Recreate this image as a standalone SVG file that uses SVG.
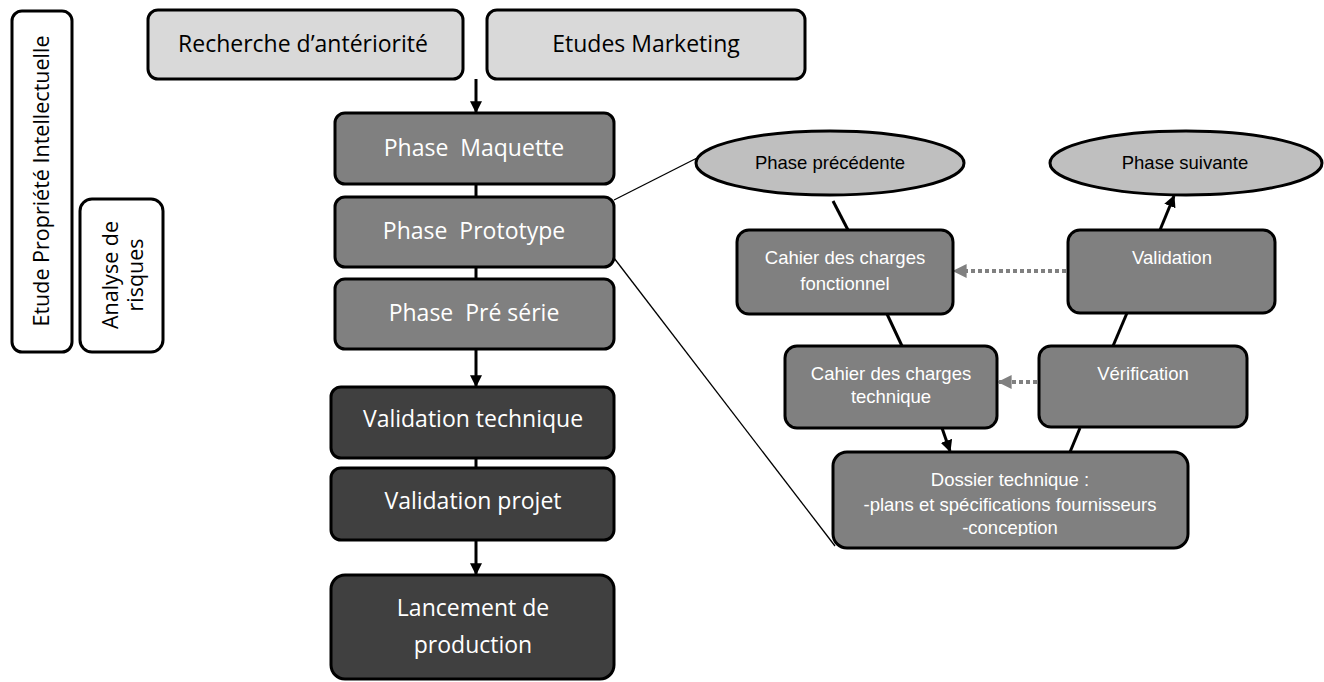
<svg xmlns="http://www.w3.org/2000/svg" width="1324" height="682" viewBox="0 0 1324 682">
<defs>
<style>
.l{font-family:"Open Sans","Liberation Sans",sans-serif;font-size:23px;text-anchor:middle;white-space:pre}
.v{font-family:"Open Sans","Liberation Sans",sans-serif;font-size:21.5px;text-anchor:middle}
.r{font-family:"Liberation Sans",Arial,sans-serif;font-size:18.5px;text-anchor:middle}
.box{stroke:#000;stroke-width:3}
.light{fill:#d9d9d9}
.mid{fill:#808080}
.dark{fill:#404040}
.white{fill:#fff}
.ell{fill:#bfbfbf;stroke:#000;stroke-width:3}
.tw{fill:#fff}
.tb{fill:#000}
.c{stroke:#000;stroke-width:3;fill:none}
.thin{stroke:#000;stroke-width:1.3;fill:none}
.dot{stroke:#808080;stroke-width:4;stroke-dasharray:4 3;fill:none}
</style>
<marker id="ab" viewBox="0 0 10 10" refX="9" refY="5" markerWidth="4" markerHeight="4" orient="auto" markerUnits="strokeWidth"><path d="M0,0 L10,5 L0,10 z" fill="#000"/></marker>
<marker id="ag" viewBox="0 0 10 10" refX="9" refY="5" markerWidth="3.5" markerHeight="3.5" orient="auto" markerUnits="strokeWidth"><path d="M0,0 L10,5 L0,10 z" fill="#808080"/></marker>
<clipPath id="dclip"><rect x="833" y="452" width="355" height="84"/></clipPath>
</defs>
<rect width="1324" height="682" fill="#fff"/>
<g id="connectors">
<line class="c" x1="476" y1="79" x2="476" y2="112" marker-end="url(#ab)"/>
<line class="c" x1="476" y1="184" x2="476" y2="197"/>
<line class="c" x1="476" y1="267" x2="476" y2="279"/>
<line class="c" x1="476" y1="349" x2="476" y2="386" marker-end="url(#ab)"/>
<line class="c" x1="476" y1="458" x2="476" y2="468"/>
<line class="c" x1="476" y1="540" x2="476" y2="574" marker-end="url(#ab)"/>
<line class="thin" x1="614" y1="200" x2="697" y2="158"/>
<line class="thin" x1="614" y1="258" x2="835" y2="546"/>
<line class="c" x1="833" y1="201" x2="848" y2="230"/>
<line class="c" x1="887" y1="314" x2="902" y2="346"/>
<line class="c" x1="942" y1="428" x2="950" y2="451" marker-end="url(#ab)"/>
<line class="c" x1="1070" y1="452" x2="1080" y2="428"/>
<line class="c" x1="1113" y1="346" x2="1127" y2="313"/>
<line class="c" x1="1160" y1="230" x2="1174" y2="196" marker-end="url(#ab)"/>
<line class="dot" x1="1066" y1="271" x2="954" y2="271" marker-end="url(#ag)"/>
<line class="dot" x1="1037" y1="382" x2="999" y2="382" marker-end="url(#ag)"/>
</g>
<g id="etude-pi"><rect class="box white" x="12" y="11" width="60" height="341" rx="10"/><text class="v tb" transform="translate(49,181) rotate(-90)">Etude Propriété Intellectuelle</text></g>
<g id="analyse"><rect class="box white" x="80" y="199" width="83" height="153" rx="12"/><text class="v tb" transform="translate(118,275) rotate(-90)">Analyse de</text><text class="v tb" transform="translate(143,275) rotate(-90)">risques</text></g>
<g id="recherche"><rect class="box light" x="148" y="10" width="315" height="69" rx="10"/><text class="l tb" x="303" y="52">Recherche d’antériorité</text></g>
<g id="marketing"><rect class="box light" x="487" y="10" width="318" height="69" rx="10"/><text class="l tb" x="646" y="52">Etudes Marketing</text></g>
<g id="maquette"><rect class="box mid" x="335" y="113" width="279" height="71" rx="10"/><text class="l tw" x="474" y="156">Phase  Maquette</text></g>
<g id="prototype"><rect class="box mid" x="335" y="197" width="279" height="70" rx="10"/><text class="l tw" x="474" y="239">Phase  Prototype</text></g>
<g id="preserie"><rect class="box mid" x="335" y="279" width="279" height="70" rx="10"/><text class="l tw" x="474" y="321">Phase  Pré série</text></g>
<g id="valtech"><rect class="box dark" x="331" y="387" width="283" height="71" rx="10"/><text class="l tw" x="473" y="427">Validation technique</text></g>
<g id="valprojet"><rect class="box dark" x="331" y="468" width="283" height="72" rx="10"/><text class="l tw" x="473" y="509">Validation projet</text></g>
<g id="lancement"><rect class="box dark" x="331" y="575" width="283" height="104" rx="14"/><text class="l tw" x="473" y="616">Lancement de</text><text class="l tw" x="473" y="653">production</text></g>
<g id="phase-prec"><ellipse class="ell" cx="830" cy="163" rx="134" ry="32"/><text class="r tb" x="830" y="169">Phase précédente</text></g>
<g id="phase-suiv"><ellipse class="ell" cx="1186" cy="163" rx="136" ry="32"/><text class="r tb" x="1185" y="169">Phase suivante</text></g>
<g id="cdc-fonc"><rect class="box mid" x="737" y="230" width="216" height="84" rx="12"/><text class="r tw" x="845" y="264">Cahier des charges</text><text class="r tw" x="845" y="290">fonctionnel</text></g>
<g id="validation"><rect class="box mid" x="1068" y="230" width="207" height="83" rx="12"/><text class="r tw" x="1172" y="264">Validation</text></g>
<g id="cdc-tech"><rect class="box mid" x="785" y="346" width="212" height="82" rx="12"/><text class="r tw" x="891" y="380">Cahier des charges</text><text class="r tw" x="891" y="403">technique</text></g>
<g id="verification"><rect class="box mid" x="1039" y="346" width="208" height="81" rx="12"/><text class="r tw" x="1143" y="380">Vérification</text></g>
<g id="dossier"><rect class="box mid" x="833" y="452" width="355" height="96" rx="14"/><g clip-path="url(#dclip)"><text class="r tw" x="1010" y="486">Dossier technique :</text><text class="r tw" x="1010" y="511">-plans et spécifications fournisseurs</text><text class="r tw" x="1010" y="534">-conception</text></g></g>
</svg>
